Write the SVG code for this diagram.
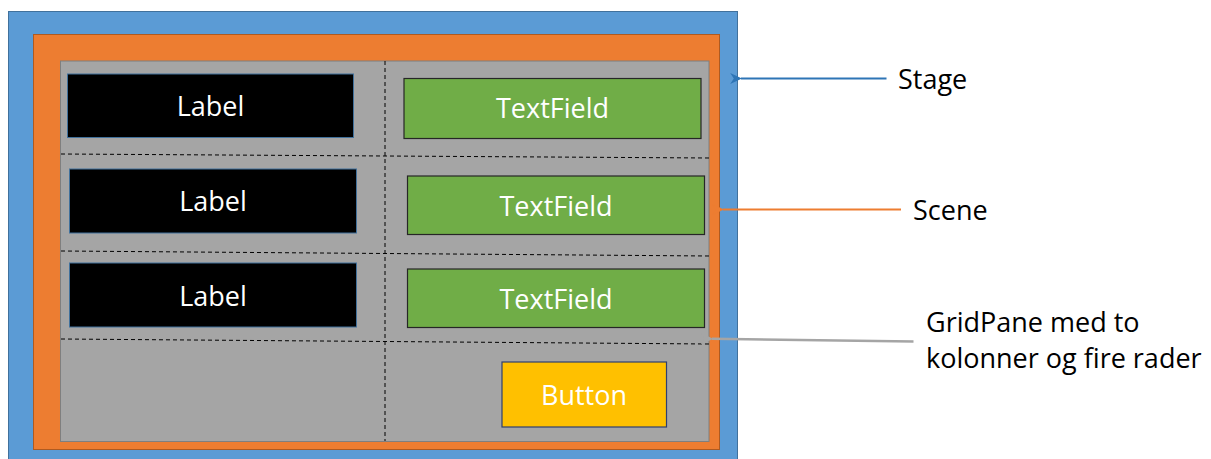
<svg xmlns="http://www.w3.org/2000/svg" width="1211" height="459" viewBox="0 0 1211 459">
  <style>
    .txt { font-family: "Open Sans", "Noto Sans", sans-serif; font-size: 27px; }
    .in { fill: #ffffff; text-anchor: middle; }
    .side { fill: #000000; }
    .label { fill: #000000; stroke: #41719c; stroke-width: 1; }
    .field { fill: #70ad47; stroke: #262626; stroke-width: 1.2; }
    .grid { stroke: #000000; stroke-width: 1; stroke-dasharray: 4 3; fill: none; }
  </style>
  <defs>
    <marker id="ahBlue" viewBox="0 0 10 10" refX="1" refY="5" markerWidth="6" markerHeight="6" orient="auto-start-reverse">
      <path d="M0,5 L10,0.5 L7,5 L10,9.5 Z" fill="#2e75b6"/>
    </marker>
    <marker id="ahOrange" viewBox="0 0 10 10" refX="1" refY="5" markerWidth="6" markerHeight="6" orient="auto-start-reverse">
      <path d="M0,5 L10,0.5 L7,5 L10,9.5 Z" fill="#ed7d31"/>
    </marker>
    <marker id="ahGray" viewBox="0 0 10 10" refX="1" refY="5" markerWidth="5" markerHeight="5" orient="auto-start-reverse">
      <path d="M0,5 L10,0.5 L7,5 L10,9.5 Z" fill="#a5a5a5"/>
    </marker>
  </defs>

  <!-- window layers -->
  <g id="stage">
    <rect x="8.5" y="11.5" width="729" height="452" fill="#5b9bd5" stroke="#41719c" stroke-width="1"/>
  </g>
  <g id="scene">
    <rect x="33.5" y="34.5" width="686" height="415" fill="#ed7d31" stroke="#ae5a21" stroke-width="1"/>
  </g>
  <g id="gridpane">
    <rect x="60.5" y="61" width="648.5" height="380.5" fill="#a5a5a5" stroke="#7f7f7f" stroke-width="1"/>
    <line class="grid" x1="385" y1="61" x2="385" y2="441"/>
    <line class="grid" x1="61" y1="154" x2="709" y2="158"/>
    <line class="grid" x1="61" y1="251" x2="709" y2="256"/>
    <line class="grid" x1="61" y1="339" x2="709" y2="344"/>
  </g>

  <!-- controls in the grid -->
  <g id="label1">
    <rect class="label" x="67.5" y="74" width="286" height="63.5"/>
    <text class="txt in" x="210.5" y="116">Label</text>
  </g>
  <g id="textfield1">
    <rect class="field" x="404" y="78.5" width="297" height="60"/>
    <text class="txt in" x="552.5" y="118">TextField</text>
  </g>
  <g id="label2">
    <rect class="label" x="69.5" y="169" width="287" height="64"/>
    <text class="txt in" x="213" y="211">Label</text>
  </g>
  <g id="textfield2">
    <rect class="field" x="407.5" y="176" width="297" height="58.5"/>
    <text class="txt in" x="556" y="215.5">TextField</text>
  </g>
  <g id="label3">
    <rect class="label" x="69.5" y="263" width="287" height="64"/>
    <text class="txt in" x="213" y="305.5">Label</text>
  </g>
  <g id="textfield3">
    <rect class="field" x="407.5" y="269" width="297" height="58.5"/>
    <text class="txt in" x="556" y="308.5">TextField</text>
  </g>
  <g id="button">
    <rect x="502" y="362" width="164.5" height="65" fill="#ffc000" stroke="#2f3f6f" stroke-width="1.2"/>
    <text class="txt in" x="584" y="404.5">Button</text>
  </g>

  <!-- callout labels -->
  <g id="stage-label">
    <text class="txt side" x="898" y="89">Stage</text>
  </g>
  <g id="scene-label">
    <text class="txt side" x="913" y="220">Scene</text>
  </g>
  <g id="gridpane-label">
    <text class="txt side" x="926" y="332">GridPane med to</text>
    <text class="txt side" x="926" y="368">kolonner og fire rader</text>
  </g>

  <!-- pointers -->
  <g id="connectors">
    <line x1="886.5" y1="78.5" x2="741" y2="78.5" stroke="#2e75b6" stroke-width="2" marker-end="url(#ahBlue)"/>
    <line x1="901" y1="209.5" x2="723" y2="209.5" stroke="#ed7d31" stroke-width="2" marker-end="url(#ahOrange)"/>
    <line x1="913.5" y1="341.5" x2="712" y2="338.8" stroke="#a5a5a5" stroke-width="2.5" marker-end="url(#ahGray)"/>
  </g>
</svg>
